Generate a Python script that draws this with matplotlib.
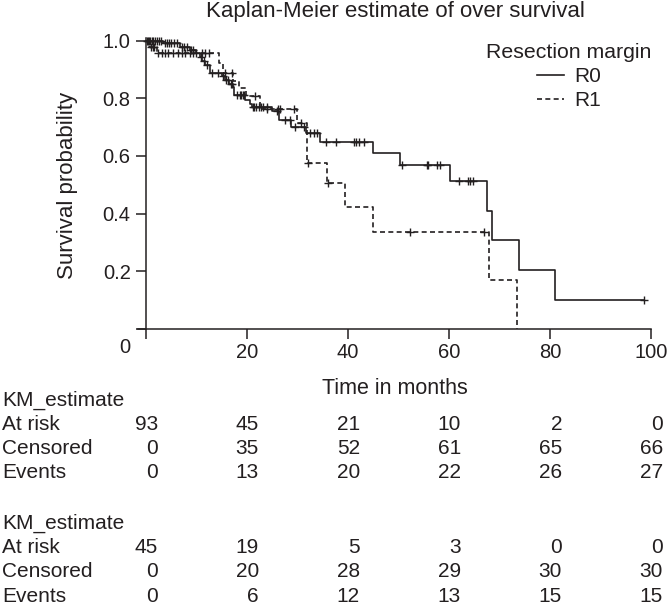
import numpy as np
import matplotlib
matplotlib.use("Agg")
import matplotlib.pyplot as plt
from matplotlib import transforms

# Kaplan-Meier step values
r0_times = [0, 3.4, 6.7, 8.7, 10.0, 10.6, 11.0, 11.7, 12.7, 15.0, 15.6, 16.5, 17.3, 17.5,
            19.6, 20.5, 20.9, 24.9, 26.4, 28.8, 31.7, 34.5, 44.9, 50.2, 60.2, 67.6, 68.5,
            73.9, 81.0, 98.6]
r0_surv = [1.0, 0.990, 0.979, 0.968, 0.957, 0.944, 0.930, 0.917, 0.888, 0.876, 0.864, 0.851,
           0.838, 0.812, 0.795, 0.780, 0.770, 0.755, 0.724, 0.702, 0.680, 0.647, 0.609, 0.568,
           0.512, 0.410, 0.307, 0.205, 0.102, 0.102]
r0_censor = [0.2, 0.5, 0.8, 1.1, 1.4, 1.8, 2.2, 2.6, 3.0, 3.8, 4.2, 4.6, 5.0, 5.5, 6.1,
             7.2, 7.6, 8.2, 9.0, 9.4, 10.8, 11.4, 12.1, 13.0, 14.2, 15.3, 15.9, 16.2, 16.9,
             17.1, 18.0, 18.6, 18.9, 19.2, 19.4,
             21.1, 21.4, 21.7, 22.3, 22.7, 23.2, 24.0, 26.0, 27.5, 28.5, 29.5, 31.2, 32.5,
             33.3, 33.9, 35.6, 37.6,
             41.1, 41.6, 42.2, 43.2, 50.6, 55.6, 55.9, 57.6, 58.2,
             62.0, 63.7, 64.2, 64.8, 98.6]

r1_times = [0, 0.5, 2.1, 14.5, 15.2, 17.3, 18.5, 19.8, 22.6, 29.9, 31.9, 35.9, 39.5, 45.0,
            67.9, 73.5]
r1_surv = [1.0, 0.978, 0.956, 0.922, 0.888, 0.861, 0.834, 0.807, 0.763, 0.714, 0.577, 0.506,
           0.422, 0.338, 0.170, 0.0]
r1_censor = [0.3, 0.9, 1.3, 1.6, 2.4, 3.1, 3.8, 4.4, 5.4, 6.4, 7.1, 7.7, 8.7, 9.4, 10.0,
             11.0, 11.7, 12.4, 15.6, 17.0,
             21.6, 24.0, 26.2, 26.6, 29.3, 30.6, 32.1, 36.1, 52.3, 66.9]

# at-risk table
table_times = [0, 20, 40, 60, 80, 100]
r0_at_risk = [93, 45, 21, 10, 2, 0]
r0_censored = [0, 35, 52, 61, 65, 66]
r0_events = [0, 13, 20, 22, 26, 27]
r1_at_risk = [45, 19, 5, 3, 0, 0]
r1_censored = [0, 20, 28, 29, 30, 30]
r1_events = [0, 6, 12, 13, 15, 15]

ink = "#231f20"
plt.rcParams["font.family"] = ["Liberation Sans", "DejaVu Sans"]

fig = plt.figure(figsize=(6.69, 6.05), dpi=100)
ax = fig.add_axes([0.2069, 0.4562, 0.7662, 0.4805])


def surv_at(times, surv, t):
    i = np.searchsorted(times, t, side="right") - 1
    return np.asarray(surv)[i]


ax.step(r0_times, r0_surv, where="post", color=ink, lw=1.2, label="R0", clip_on=False)
ax.step(r1_times, r1_surv, where="post", color=ink, lw=1.2, ls=(0, (3, 2)), label="R1",
        clip_on=False)
ax.plot(r0_censor, surv_at(r0_times, r0_surv, r0_censor), ls="none", marker="+",
        ms=6, mew=1.0, color=ink, clip_on=False)
ax.plot(r1_censor, surv_at(r1_times, r1_surv, r1_censor), ls="none", marker="+",
        ms=6, mew=1.0, color=ink, clip_on=False)

ax.set_xlim(-1.5, 100)
ax.set_ylim(0, 1.008)
for s in ["top", "right"]:
    ax.spines[s].set_visible(False)
ax.spines["left"].set_position(("data", 0))
for s in ["left", "bottom"]:
    ax.spines[s].set_color(ink)
    ax.spines[s].set_linewidth(1.1)

ax.set_xticks(table_times)
ax.set_xticklabels([""] + [str(t) for t in table_times[1:]])
ax.set_yticks([0, 0.2, 0.4, 0.6, 0.8, 1.0])
ax.set_yticklabels(["", "0.2", "0.4", "0.6", "0.8", "1.0"])
ax.tick_params(length=7, width=1.1, color=ink, labelcolor=ink, labelsize=14.5, pad=4)
ax.tick_params(axis="x", pad=3)
ax.annotate("0", xy=(0, 0), xytext=(-15.5, -13.5), textcoords="offset points",
            ha="center", va="center", fontsize=14.5, color=ink, annotation_clip=False)

fig.text(395 / 669, 1 - 12 / 605, "Kaplan-Meier estimate of over survival", ha="center",
         va="center", fontsize=16, color=ink)
fig.text(68 / 669, 1 - 185 / 605, "Survival probability", rotation=90, ha="center",
         va="center", fontsize=16, color=ink)
fig.text(395 / 669, 1 - 388 / 605, "Time in months", ha="center", va="center",
         fontsize=15.5, color=ink)

leg = ax.legend(title="Resection margin", loc="upper center", frameon=False,
                bbox_to_anchor=(569 / 669, 1 - 43 / 605), bbox_transform=fig.transFigure,
                fontsize=15, title_fontsize=15.3, handlelength=1.3, handletextpad=0.5,
                labelspacing=0.25, borderpad=0, borderaxespad=0)
for t in leg.get_texts():
    t.set_color(ink)
leg.get_title().set_color(ink)

# at-risk table under the axes
col_tr = transforms.blended_transform_factory(ax.transData, fig.transFigure) + \
    transforms.ScaledTranslation(12 / 100, 0, fig.dpi_scale_trans)
blocks = [
    (400, [r0_at_risk, r0_censored, r0_events]),
    (523.3, [r1_at_risk, r1_censored, r1_events]),
]
row_names = ["At risk", "Censored", "Events"]
row_gap = 24.3
for y0, rows in blocks:
    fig.text(2 / 669, 1 - y0 / 605, "KM_estimate", ha="left", va="center", fontsize=15,
             color=ink)
    for k, (name, vals) in enumerate(zip(row_names, rows)):
        yy = 1 - (y0 + (k + 1) * row_gap) / 605
        fig.text(2 / 669, yy, name, ha="left", va="center", fontsize=15, color=ink)
        for t, v in zip(table_times, vals):
            fig.text(t, yy, str(v), transform=col_tr, ha="right", va="center",
                     fontsize=15, color=ink)

fig.savefig("out.png", dpi=100)
